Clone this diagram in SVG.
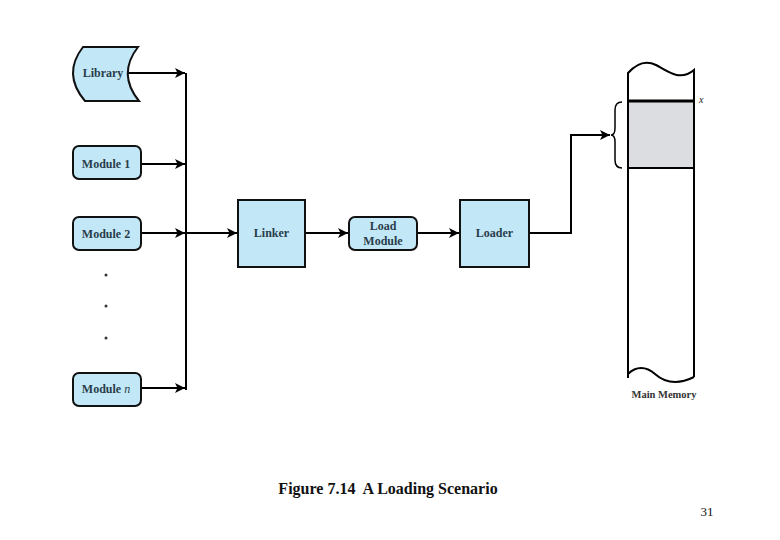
<svg xmlns="http://www.w3.org/2000/svg" width="780" height="540" viewBox="0 0 780 540">
<defs>
<marker id="arr" viewBox="0 0 10 10" refX="10" refY="5" markerWidth="5" markerHeight="5" orient="auto" markerUnits="strokeWidth">
<path d="M0,0 L10,5 L0,10 L2.5,5 Z" fill="#000"/>
</marker>
<style>
.box{fill:#c2e8f8;stroke:#111;stroke-width:2}
.serif{font-family:"Liberation Serif","Times New Roman","DejaVu Serif",serif}
.lbl{font-size:12px;font-weight:bold;fill:#2a3d4a;text-anchor:middle}
.ln{fill:none;stroke:#000;stroke-width:2}
.dot{fill:#333}
</style>
</defs>
<rect width="780" height="540" fill="#fff"/>
<g id="connectors">
<line class="ln" x1="186" y1="73" x2="186" y2="390"/>
<line class="ln" x1="128" y1="73" x2="185" y2="73" marker-end="url(#arr)"/>
<line class="ln" x1="141" y1="164" x2="185" y2="164" marker-end="url(#arr)"/>
<line class="ln" x1="141" y1="233" x2="185" y2="233" marker-end="url(#arr)"/>
<line class="ln" x1="141" y1="388" x2="185" y2="388" marker-end="url(#arr)"/>
<line class="ln" x1="186" y1="233" x2="237" y2="233" marker-end="url(#arr)"/>
<line class="ln" x1="305" y1="233" x2="348" y2="233" marker-end="url(#arr)"/>
<line class="ln" x1="417" y1="233" x2="459" y2="233" marker-end="url(#arr)"/>
<polyline class="ln" points="529,233 571,233 571,135 610,135" marker-end="url(#arr)"/>
</g>
<g id="library">
<path class="box" d="M83,47 L138,47 Q117,74 139,101 L85,101 Q62,74 83,47 Z"/>
<text class="serif lbl" x="103" y="77">Library</text>
</g>
<g id="module1">
<rect class="box" x="73" y="146" width="68" height="33" rx="6"/>
<text class="serif lbl" x="106" y="168">Module 1</text>
</g>
<g id="module2">
<rect class="box" x="73" y="217" width="68" height="33" rx="6"/>
<text class="serif lbl" x="106" y="238">Module 2</text>
</g>
<g id="dots">
<circle class="dot" cx="106" cy="275" r="1.5"/>
<circle class="dot" cx="106" cy="306" r="1.5"/>
<circle class="dot" cx="106" cy="338" r="1.5"/>
</g>
<g id="modulen">
<rect class="box" x="73" y="373" width="68" height="33" rx="6"/>
<text class="serif lbl" x="106" y="393">Module <tspan font-style="italic" font-weight="normal">n</tspan></text>
</g>
<g id="linker">
<rect class="box" x="238" y="200" width="67" height="67"/>
<text class="serif lbl" x="271.5" y="237">Linker</text>
</g>
<g id="loadmodule">
<rect class="box" x="349" y="217" width="68" height="33" rx="6"/>
<text class="serif lbl" x="383" y="230">Load</text>
<text class="serif lbl" x="383" y="245">Module</text>
</g>
<g id="loader">
<rect class="box" x="460" y="200" width="69" height="67"/>
<text class="serif lbl" x="494.5" y="237">Loader</text>
</g>
<g id="memory">
<rect x="628" y="101" width="66" height="67" fill="#dcdde0"/>
<path d="M628,378 L628,73 C636,64 646,60 656,65 C667,71 680,82 694,70 L694,377" fill="none" stroke="#000" stroke-width="2"/>
<path d="M628,374 C636,366 646,366 655,374 C664,382 676,386 694,377" fill="none" stroke="#000" stroke-width="2"/>
<line x1="628" y1="101" x2="694" y2="101" stroke="#000" stroke-width="3"/>
<line x1="628" y1="168" x2="694" y2="168" stroke="#000" stroke-width="2"/>
<path d="M622,102 Q615,102 615,110 L615,128 Q615,135 611,135 Q615,135 615,142 L615,160 Q615,168 622,168" fill="none" stroke="#000" stroke-width="1.5"/>
<text class="serif" x="699" y="103" font-size="10" font-style="italic" fill="#222">x</text>
<text class="serif" x="664" y="398" font-size="10.5" font-weight="bold" fill="#333" text-anchor="middle">Main Memory</text>
</g>
<text class="serif" x="388" y="494" font-size="16" font-weight="bold" fill="#111" text-anchor="middle" xml:space="preserve">Figure 7.14  A Loading Scenario</text>
<text class="serif" x="707" y="516" font-size="13" fill="#111" text-anchor="middle">31</text>
</svg>
